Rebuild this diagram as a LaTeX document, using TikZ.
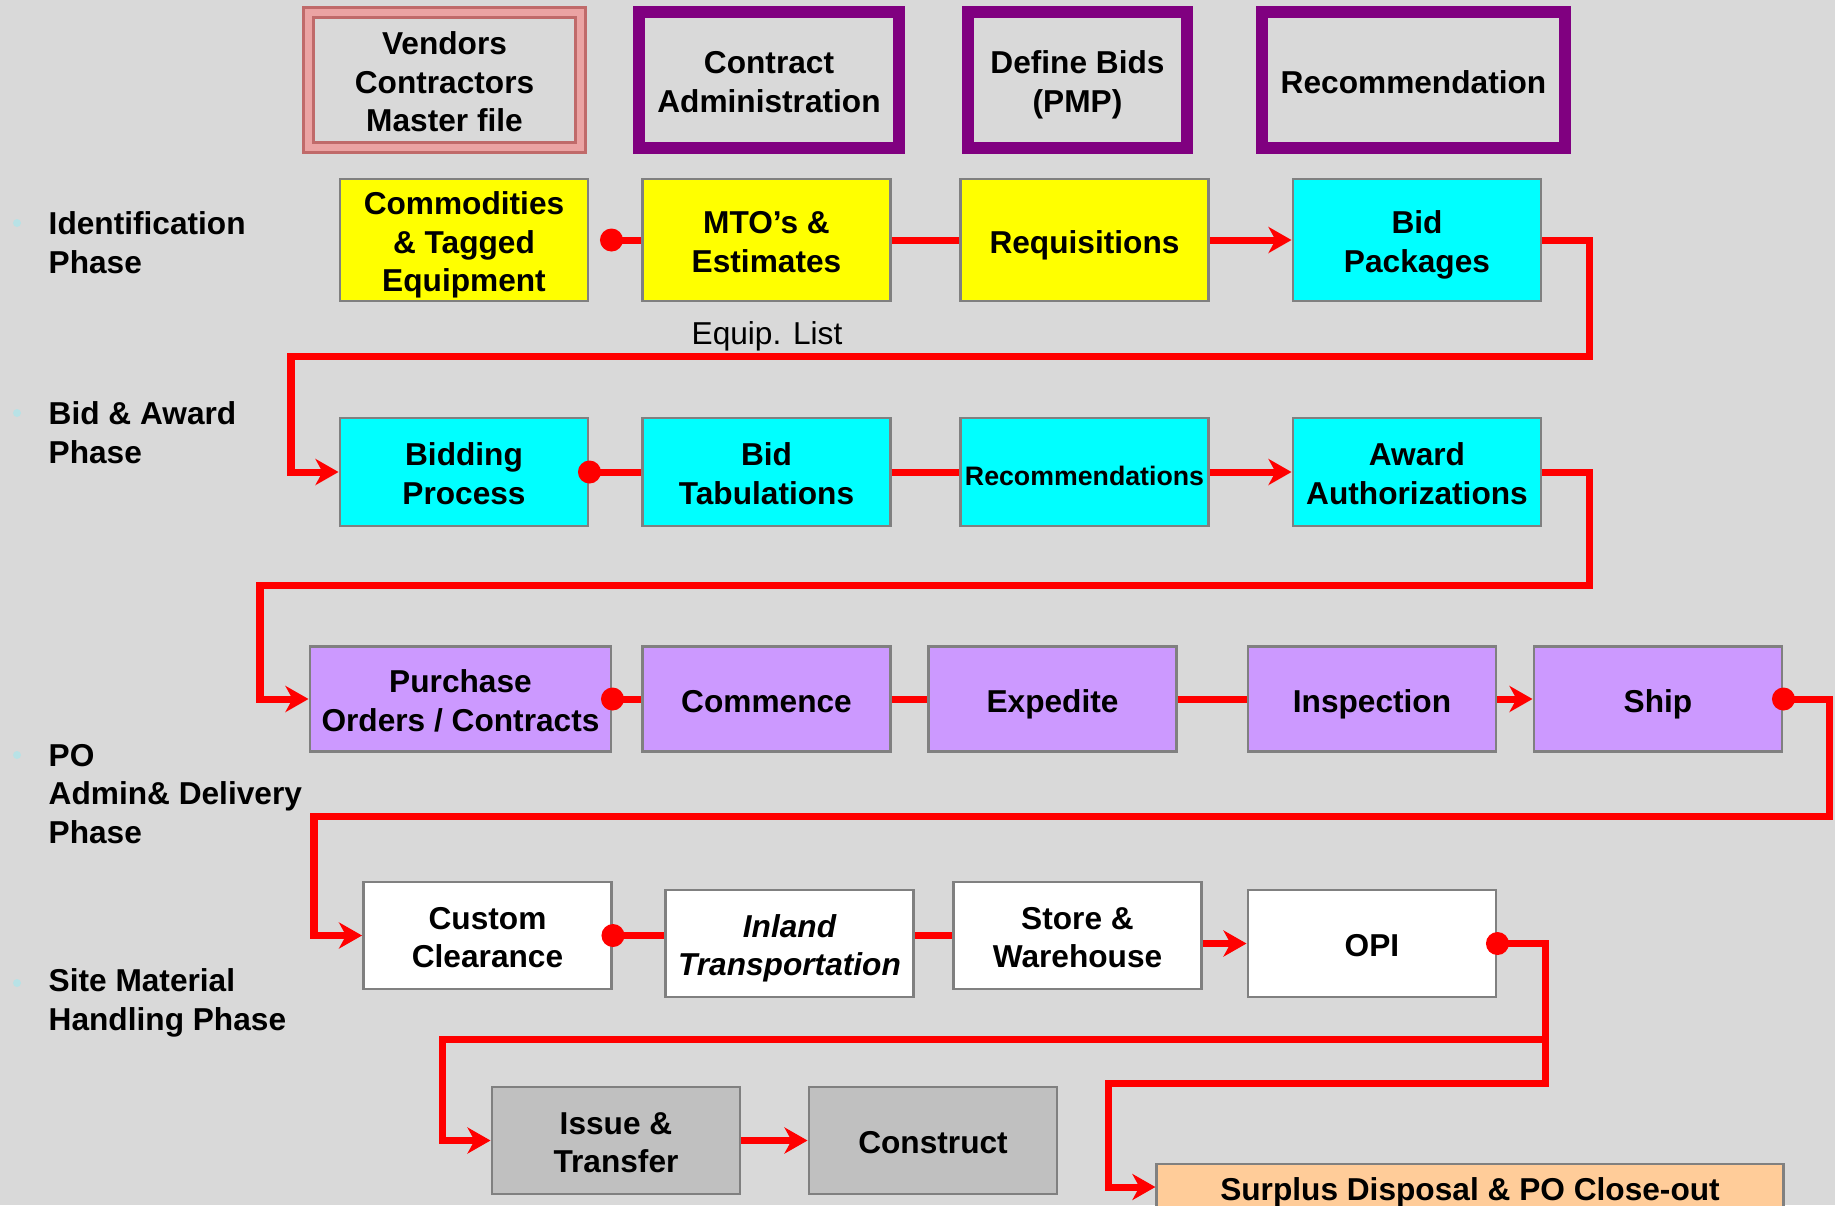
\documentclass[tikz,border=0pt]{standalone}
\usepackage{fontspec}
\setmainfont{Liberation Sans}
\usetikzlibrary{arrows.meta}

\definecolor{bgray}{HTML}{D9D9D9}
\definecolor{boxline}{HTML}{808080}
\definecolor{flowred}{HTML}{FF0000}
\definecolor{idyellow}{HTML}{FFFF00}
\definecolor{bidcyan}{HTML}{00FFFF}
\definecolor{polilac}{HTML}{CC99FF}
\definecolor{sitegray}{HTML}{C0C0C0}
\definecolor{closepeach}{HTML}{FFCC99}
\definecolor{frameplum}{HTML}{800080}
\definecolor{roseout}{HTML}{C06A6A}
\definecolor{rosein}{HTML}{EBA3A3}
\definecolor{bulletc}{HTML}{B8E2E6}

\begin{document}
\begin{tikzpicture}[
		x=0.01cm, y=-0.01cm,
		every node/.style={font=\fontsize{9}{11}\selectfont\bfseries, align=center, inner sep=0pt},
		oneline/.style={text height=9.4pt, text depth=2pt},
		twoline/.style={text height=20.4pt, text depth=2pt},
		threeline/.style={text height=31.4pt, text depth=2pt},
		box/.style={rectangle, draw=boxline, line width=0.8pt, minimum width=2.48cm},
		ident/.style={box, fill=idyellow, minimum height=1.22cm},
		bidaw/.style={box, fill=bidcyan, minimum height=1.08cm},
		podel/.style={box, fill=polilac, minimum height=1.05cm},
		site/.style={box, fill=white, minimum height=1.07cm},
		issue/.style={box, fill=sitegray, minimum height=1.07cm},
		plumframe/.style={rectangle, draw=frameplum, line width=0.12cm, fill=bgray, minimum height=1.35cm},
		phase/.style={anchor=west, align=left},
		flow/.style={draw=flowred, line width=0.07cm},
		arr/.style={flow, -{Stealth[length=0.23cm, width=0.26cm, inset=0.07cm]}}
	]
  \useasboundingbox (0,0) rectangle (1835,1205);
  \clip (0,0) rectangle (1835,1205);
  \fill[bgray] (0,0) rectangle (1835,1205);

  % top frames
  \node (vnd) [rectangle, threeline, draw=roseout, line width=0.8pt, double=rosein, double distance=0.07cm,
    minimum width=2.72cm, minimum height=1.35cm] at (444.5,80) {Vendors\\Contractors\\Master file};
  \node (cad) [plumframe, twoline, minimum width=2.60cm] at (769,80) {Contract\\Administration};
  \node (dfb) [plumframe, twoline, minimum width=2.19cm] at (1077.5,80) {Define Bids\\(PMP)};
  \node (rcm) [plumframe, oneline, minimum width=3.03cm] at (1413.5,80) {Recommendation};

  % phase labels
  \fill[bulletc] (17,223) circle (0.04cm);
  \fill[bulletc] (17,413) circle (0.04cm);
  \fill[bulletc] (17,755) circle (0.04cm);
  \fill[bulletc] (17,983) circle (0.04cm);
  \node (idph) [phase] at (48,243) {Identification\\Phase};
  \node (bawph) [phase] at (48,433) {Bid \& Award\\Phase};
  \node (poph) [phase] at (48,794) {PO\\Admin\& Delivery\\Phase};
  \node (siteph) [phase] at (48,1003) {Site Material\\Handling Phase};

  % identification
  \node (com) [ident, threeline] at (464,240) {Commodities\\\& Tagged\\Equipment};
  \node (mto) [ident, twoline] at (766.5,240) {MTO’s \&\\Estimates};
  \node (req) [ident, oneline] at (1084.5,240) {Requisitions};
  \node (bpk) [bidaw, twoline, minimum height=1.22cm] at (1417,240) {Bid\\Packages};
  \node (eql) [font=\fontsize{9}{11}\selectfont] at (767,336) {Equip. List};

  % bid and award
  \node (bid) [bidaw, twoline] at (464,472) {Bidding\\Process};
  \node (tab) [bidaw, twoline] at (766.5,472) {Bid\\Tabulations};
  \node (rec) [bidaw, oneline, font=\fontsize{7.6}{9}\selectfont\bfseries] at (1084.5,472) {Recommendations};
  \node (awd) [bidaw, twoline] at (1417,472) {Award\\Authorizations};

  % po admin and delivery
  \node (pur) [podel, twoline, minimum width=3.01cm] at (460.5,699) {Purchase\\Orders / Contracts};
  \node (cmc) [podel, oneline] at (766.5,699) {Commence};
  \node (exp) [podel, oneline] at (1052.5,699) {Expedite};
  \node (ins) [podel, oneline] at (1372,699) {Inspection};
  \node (shp) [podel, oneline] at (1658,699) {Ship};

  % site handling
  \node (cus) [site, twoline] at (487.5,935.5) {Custom\\Clearance};
  \node (inl) [site, twoline, font=\fontsize{9}{11}\selectfont\bfseries\itshape] at (789.5,943.5) {Inland\\Transportation};
  \node (sto) [site, twoline] at (1077.5,935.5) {Store \&\\Warehouse};
  \node (opi) [site, oneline] at (1372,943.5) {OPI};
  \node (iss) [issue, twoline] at (616,1140.5) {Issue \&\\Transfer};
  \node (con) [issue, oneline] at (933,1140.5) {Construct};
  \node (sur) [box, oneline, fill=closepeach, minimum width=6.26cm, minimum height=0.46cm] at (1470,1187) {Surplus Disposal \& PO Close-out};

  \coordinate (split) at (1545,1039);

  \draw[flow] ([xshift=0.22cm]com.east) -- (mto.west);
  \draw[flow] (mto.east) -- (req.west);
  \draw[arr] (req.east) -- (bpk.west);
  \draw[arr] (bpk.east) -- (1589,240) -- (1589,356) -- (291,356) |- (bid.west);

  \draw[flow] (bid.east) -- (tab.west);
  \draw[flow] (tab.east) -- (rec.west);
  \draw[arr] (rec.east) -- (awd.west);
  \draw[arr] (awd.east) -- (1589,472) -- (1589,585) -- (260,585) |- (pur.west);

  \draw[flow] (pur.east) -- (cmc.west);
  \draw[flow] (cmc.east) -- (exp.west);
  \draw[flow] (exp.east) -- (ins.west);
  \draw[arr] (ins.east) -- (shp.west);
  \draw[arr] (shp.east) -- (1829,699) -- (1829,816) -- (314,816) |- (cus.west);

  \draw[flow] (cus.east) -- (cus.east -| inl.west);
  \draw[flow] (inl.east |- sto.west) -- (sto.west);
  \draw[arr] (sto.east |- opi.west) -- (opi.west);
  \draw[arr] (opi.east) -- (1545,943.5) -- (split) -- (442,1039) |- (iss.west);
  \draw[arr] (split) -- (1545,1083) -- (1108,1083) |- (sur.west);
  \draw[arr] (iss.east) -- (con.west);

  % dots
  \fill[flowred] ([xshift=0.22cm]com.east) circle (0.115cm);
  \fill[flowred] (bid.east) circle (0.115cm);
  \fill[flowred] (pur.east) circle (0.115cm);
  \fill[flowred] (shp.east) circle (0.115cm);
  \fill[flowred] (cus.east) circle (0.115cm);
  \fill[flowred] (opi.east) circle (0.115cm);
\end{tikzpicture}
\end{document}
